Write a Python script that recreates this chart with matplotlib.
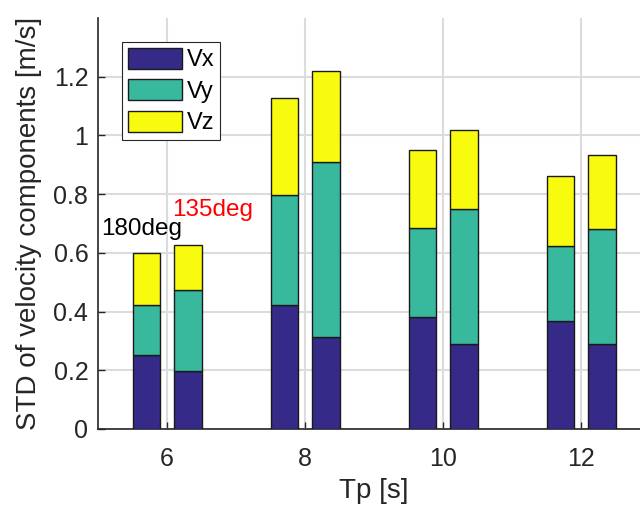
import matplotlib
matplotlib.use('Agg')
import matplotlib.pyplot as plt
import numpy as np

plt.rcParams['font.family'] = ['Liberation Sans', 'DejaVu Sans']

# data
tp = [6, 8, 10, 12]
vx_180 = [0.252, 0.421, 0.380, 0.367]
vy_180 = [0.172, 0.377, 0.305, 0.256]
vz_180 = [0.177, 0.329, 0.264, 0.240]
vx_135 = [0.197, 0.314, 0.289, 0.288]
vy_135 = [0.275, 0.597, 0.459, 0.392]
vz_135 = [0.154, 0.308, 0.271, 0.254]
labels = ['Vx', 'Vy', 'Vz']
colors = ['#352a87', '#38b99e', '#f9fb0e']

fig = plt.figure(figsize=(6.4, 5.14), dpi=100)
ax = fig.add_axes([98/640, 85/514, 552/640, 411/514])

x = np.array(tp, dtype=float)
w = 0.4
for offs, comps in [(-0.3, [vx_180, vy_180, vz_180]), (0.3, [vx_135, vy_135, vz_135])]:
    bottom = np.zeros(len(tp))
    for vals, c, lab in zip(comps, colors, labels):
        ax.bar(x + offs, vals, w, bottom=bottom, color=c, edgecolor='#1a1a1a',
               linewidth=1.0, label=lab if offs < 0 else None, zorder=3)
        bottom += np.array(vals)

ax.text(5.04, 0.661, '180deg', fontsize=17.5, color='black', ha='left', va='baseline')
ax.text(6.08, 0.726, '135deg', fontsize=17.5, color='red', ha='left', va='baseline')

ax.set_xlim(5, 13)
ax.set_ylim(0, 1.4)
ax.set_xticks(tp)
ax.set_xticklabels([str(t) for t in tp])
ax.set_yticks([0, 0.2, 0.4, 0.6, 0.8, 1, 1.2])
ax.set_yticklabels(['0', '0.2', '0.4', '0.6', '0.8', '1', '1.2'])
ax.tick_params(direction='in', length=5, width=1, labelsize=18, colors='#262626', pad=7)
ax.tick_params(axis='x', pad=13)
ax.grid(True, color='#dcdcdc', linewidth=1.5, zorder=0)
ax.set_axisbelow(True)
for s in ['top', 'right']:
    ax.spines[s].set_visible(False)
for s in ['left', 'bottom']:
    ax.spines[s].set_color('#262626')
    ax.spines[s].set_linewidth(1.2)

ax.set_xlabel('Tp [s]', fontsize=20, color='#262626', labelpad=5)
ax.set_ylabel('STD of velocity components [m/s]', fontsize=20, color='#262626', labelpad=8)

leg = ax.legend(loc='upper left', bbox_to_anchor=(0.0435, 0.942), fontsize=17,
                frameon=True, fancybox=False, edgecolor='#262626', framealpha=1,
                handlelength=2.3, handleheight=1.0, handletextpad=0.2,
                labelspacing=0.33, borderpad=0.25, borderaxespad=0)
leg.get_frame().set_linewidth(0.8)

fig.savefig('out.png', dpi=100)
